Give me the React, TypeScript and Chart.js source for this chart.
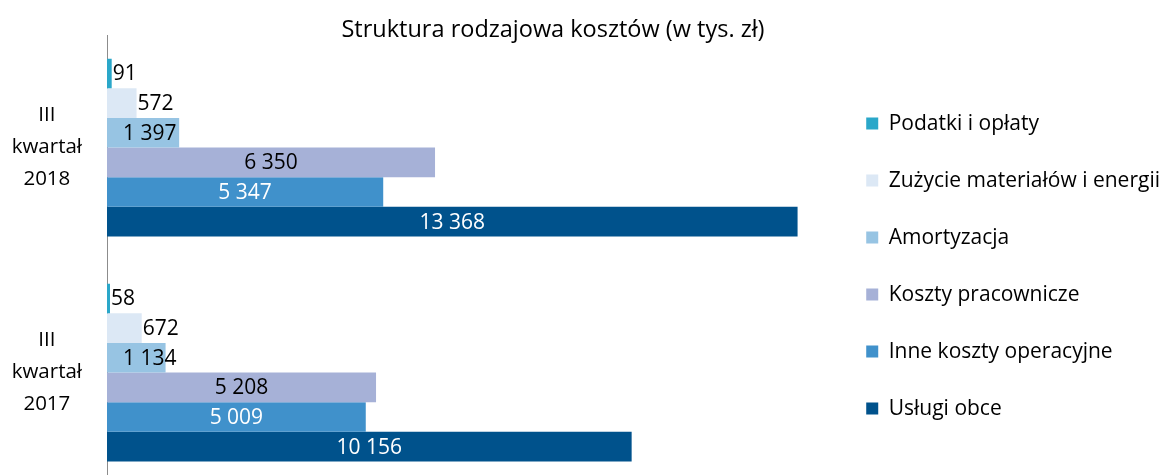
import React, { useEffect, useRef } from "react";
import { Chart, registerables } from "chart.js";

Chart.register(...registerables);

const categories: string[][] = [
  ["III", "kwartał", "2018"],
  ["III", "kwartał", "2017"],
];
const seriesNames = [
  "Podatki i opłaty",
  "Zużycie materiałów i energii",
  "Amortyzacja",
  "Koszty pracownicze",
  "Inne koszty operacyjne",
  "Usługi obce",
];
const podatki = [91, 58];
const zuzycie = [572, 672];
const amortyzacja = [1397, 1134];
const kosztyPrac = [6350, 5208];
const inneKoszty = [5347, 5009];
const uslugi = [13368, 10156];
const seriesColors = ["#2AA7C9", "#DCE8F5", "#97C4E3", "#A6B1D7", "#4091CB", "#00528C"];
const labelColors = ["#000", "#000", "#000", "#000", "#fff", "#fff"];
const title = "Struktura rodzajowa kosztów (w tys. zł)";
const FONT = "'Open Sans', sans-serif";

const fmt = (v: number) => String(v).replace(/\B(?=(\d{3})+(?!\d))/g, " ");

const valueLabels = {
  id: "valueLabels",
  afterDatasetsDraw(chart: any) {
    const ctx = chart.ctx;
    ctx.save();
    ctx.font = `21px ${FONT}`;
    ctx.textBaseline = "middle";
    chart.data.datasets.forEach((ds: any, di: number) => {
      const meta = chart.getDatasetMeta(di);
      meta.data.forEach((bar: any, i: number) => {
        const v = ds.data[i];
        const text = fmt(v);
        const w = ctx.measureText(text).width;
        const left = bar.base;
        const right = bar.x;
        let x: number;
        if (v < 1000) {
          x = right + 1;
        } else {
          x = Math.max((left + right) / 2 - w / 2, left + 16);
        }
        ctx.fillStyle = labelColors[di];
        ctx.textAlign = "left";
        ctx.fillText(text, x, bar.y + 1);
      });
    });
    ctx.restore();
  },
};

const titlePlugin = {
  id: "customTitle",
  afterDraw(chart: any) {
    const ctx = chart.ctx;
    ctx.save();
    ctx.font = `23.5px ${FONT}`;
    ctx.fillStyle = "#000";
    ctx.textAlign = "center";
    ctx.textBaseline = "middle";
    ctx.fillText(title, 553, 30);
    ctx.restore();
  },
};

export default function App() {
  const ref = useRef<HTMLCanvasElement>(null);
  useEffect(() => {
    document.body.style.margin = "0";
    const values = [podatki, zuzycie, amortyzacja, kosztyPrac, inneKoszty, uslugi];
    const chart = new Chart(ref.current!, {
      type: "bar",
      data: {
        labels: categories,
        datasets: seriesNames.map((name, i) => ({
          label: name,
          data: values[i],
          backgroundColor: seriesColors[i],
          borderWidth: 0,
          categoryPercentage: 0.79,
          barPercentage: 1,
        })),
      },
      options: {
        indexAxis: "y",
        animation: false,
        responsive: false,
        maintainAspectRatio: false,
        layout: { padding: { top: 35, bottom: 0, left: 0, right: -7 } },
        scales: {
          x: {
            display: false,
            min: 0,
            max: 14000,
          },
          y: {
            afterFit: (scale: any) => {
              scale.width = 107;
              scale.paddingTop = 0;
              scale.paddingBottom = 0;
            },
            grid: { display: false, drawTicks: false },
            border: { display: true, color: "#8c8c8c", width: 1 },
            ticks: {
              crossAlign: "center",
              padding: 25,
              color: "#000",
              font: { family: FONT, size: 20.5, lineHeight: 1.56 },
            },
          },
        },
        plugins: {
          title: { display: false },
          tooltip: { enabled: false },
          legend: {
            position: "right",
            align: "center",
            maxWidth: 600,
            title: { display: true, text: " ", font: { size: 1 }, padding: { top: 11, bottom: 0 } },
            labels: {
              boxWidth: 12,
              boxHeight: 12,
              padding: 36,
              color: "#000",
              font: { family: FONT, size: 21 },
            },
          },
        },
      },
      plugins: [valueLabels, titlePlugin],
    });
    return () => chart.destroy();
  }, []);
  return (
    <div style={{ width: 1163, height: 475, overflow: "hidden", background: "#fff" }}>
      <canvas ref={ref} width={1163} height={485} style={{ display: "block" }} />
    </div>
  );
}
